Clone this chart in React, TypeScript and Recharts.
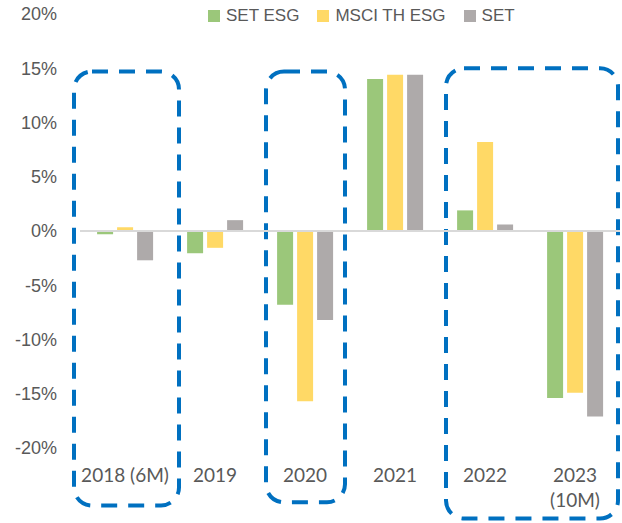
import {
  Bar,
  BarChart,
  Legend,
  ReferenceArea,
  ReferenceLine,
  XAxis,
  YAxis,
} from "recharts";

const years = ["2018 (6M)", "2019", "2020", "2021", "2022", "2023\n(10M)"];
const setEsg = [-0.3, -2.05, -6.8, 14.0, 1.9, -15.4];
const msciThEsg = [0.35, -1.55, -15.7, 14.4, 8.2, -14.9];
const setIndex = [-2.7, 1.0, -8.2, 14.4, 0.6, -17.1];
const yTicks = [-20, -15, -10, -5, 0, 5, 10, 15, 20];

const seriesInfo = [
  { key: "setEsg", name: "SET ESG", color: "#9BC77A" },
  { key: "msci", name: "MSCI TH ESG", color: "#FFD966" },
  { key: "set", name: "SET", color: "#AEAAAA" },
];

const data = years.map((year, i) => ({
  year,
  setEsg: setEsg[i],
  msci: msciThEsg[i],
  set: setIndex[i],
}));

const TEXT = "#595959";
const BLUE = "#0070C0";

function YearTick(props: any) {
  const { x, y, payload } = props;
  const lines = String(payload.value).split("\n");
  return (
    <text
      x={x}
      y={y}
      textAnchor="middle"
      fill={TEXT}
      fontSize={19}
      fontFamily="Lato, 'Liberation Sans', sans-serif"
    >
      {lines.map((line, i) => (
        <tspan key={i} x={x} dy={i === 0 ? 26 : 25}>
          {line}
        </tspan>
      ))}
    </text>
  );
}

function LegendBox() {
  return (
    <div style={{ display: "flex", alignItems: "center", fontFamily: "'Liberation Sans', Arial, sans-serif", fontSize: 17, color: TEXT, whiteSpace: "nowrap" }}>
      {seriesInfo.map((s) => (
        <div key={s.key} style={{ display: "flex", alignItems: "center", marginRight: 18 }}>
          <span style={{ display: "inline-block", width: 12, height: 12, background: s.color, marginRight: 6 }} />
          <span>{s.name}</span>
        </div>
      ))}
    </div>
  );
}

function DashedBox(pad: { l: number; r: number }) {
  return (props: any) => {
    const { x, y, width, height } = props;
    return (
      <rect
        x={x - pad.l}
        y={y}
        width={width + pad.l + pad.r}
        height={height}
        rx={18}
        ry={18}
        fill="none"
        stroke={BLUE}
        strokeWidth={4}
        strokeDasharray="16 11"
      />
    );
  };
}

export default function App() {
  return (
    <div style={{ position: "absolute", left: 0, top: 0, background: "#fff" }}>
      <BarChart
        width={622}
        height={523}
        data={data}
        margin={{ top: 14, right: 2, bottom: 0, left: 0 }}
        barCategoryGap="19%"
        barGap={4}
      >
        <XAxis
          dataKey="year"
          axisLine={false}
          tickLine={false}
          interval={0}
          height={75}
          tick={<YearTick />}
        />
        <YAxis
          domain={[-20, 20]}
          ticks={yTicks}
          width={80}
          axisLine={false}
          tickLine={false}
          tickMargin={17}
          interval={0}
          tickFormatter={(v: number) => `${v}%`}
          tick={{ fill: TEXT, fontSize: 18, fontFamily: "'Liberation Sans', Arial, sans-serif" }}
        />
        <ReferenceLine y={0} stroke="#D9D9D9" strokeWidth={2} />
        <Legend
          layout="horizontal"
          verticalAlign="middle"
          align="center"
          content={<LegendBox />}
          wrapperStyle={{ top: 6, left: 208, width: 380, height: 20 }}
        />
        {seriesInfo.map((s) => (
          <Bar
            key={s.key}
            dataKey={s.key}
            name={s.name}
            fill={s.color}
            isAnimationActive={false}
          />
        ))}
        <ReferenceArea
          x1={years[0]}
          x2={years[0]}
          y1={14.7}
          y2={-25.3}
          ifOverflow="visible"
          shape={DashedBox({ l: 6, r: 9 })}
        />
        <ReferenceArea
          x1={years[2]}
          x2={years[2]}
          y1={14.7}
          y2={-25}
          ifOverflow="visible"
          shape={DashedBox({ l: -6, r: -5 })}
        />
        <ReferenceArea
          x1={years[4]}
          x2={years[5]}
          y1={15}
          y2={-26.5}
          ifOverflow="visible"
          shape={DashedBox({ l: -6, r: -2 })}
        />
      </BarChart>
    </div>
  );
}
